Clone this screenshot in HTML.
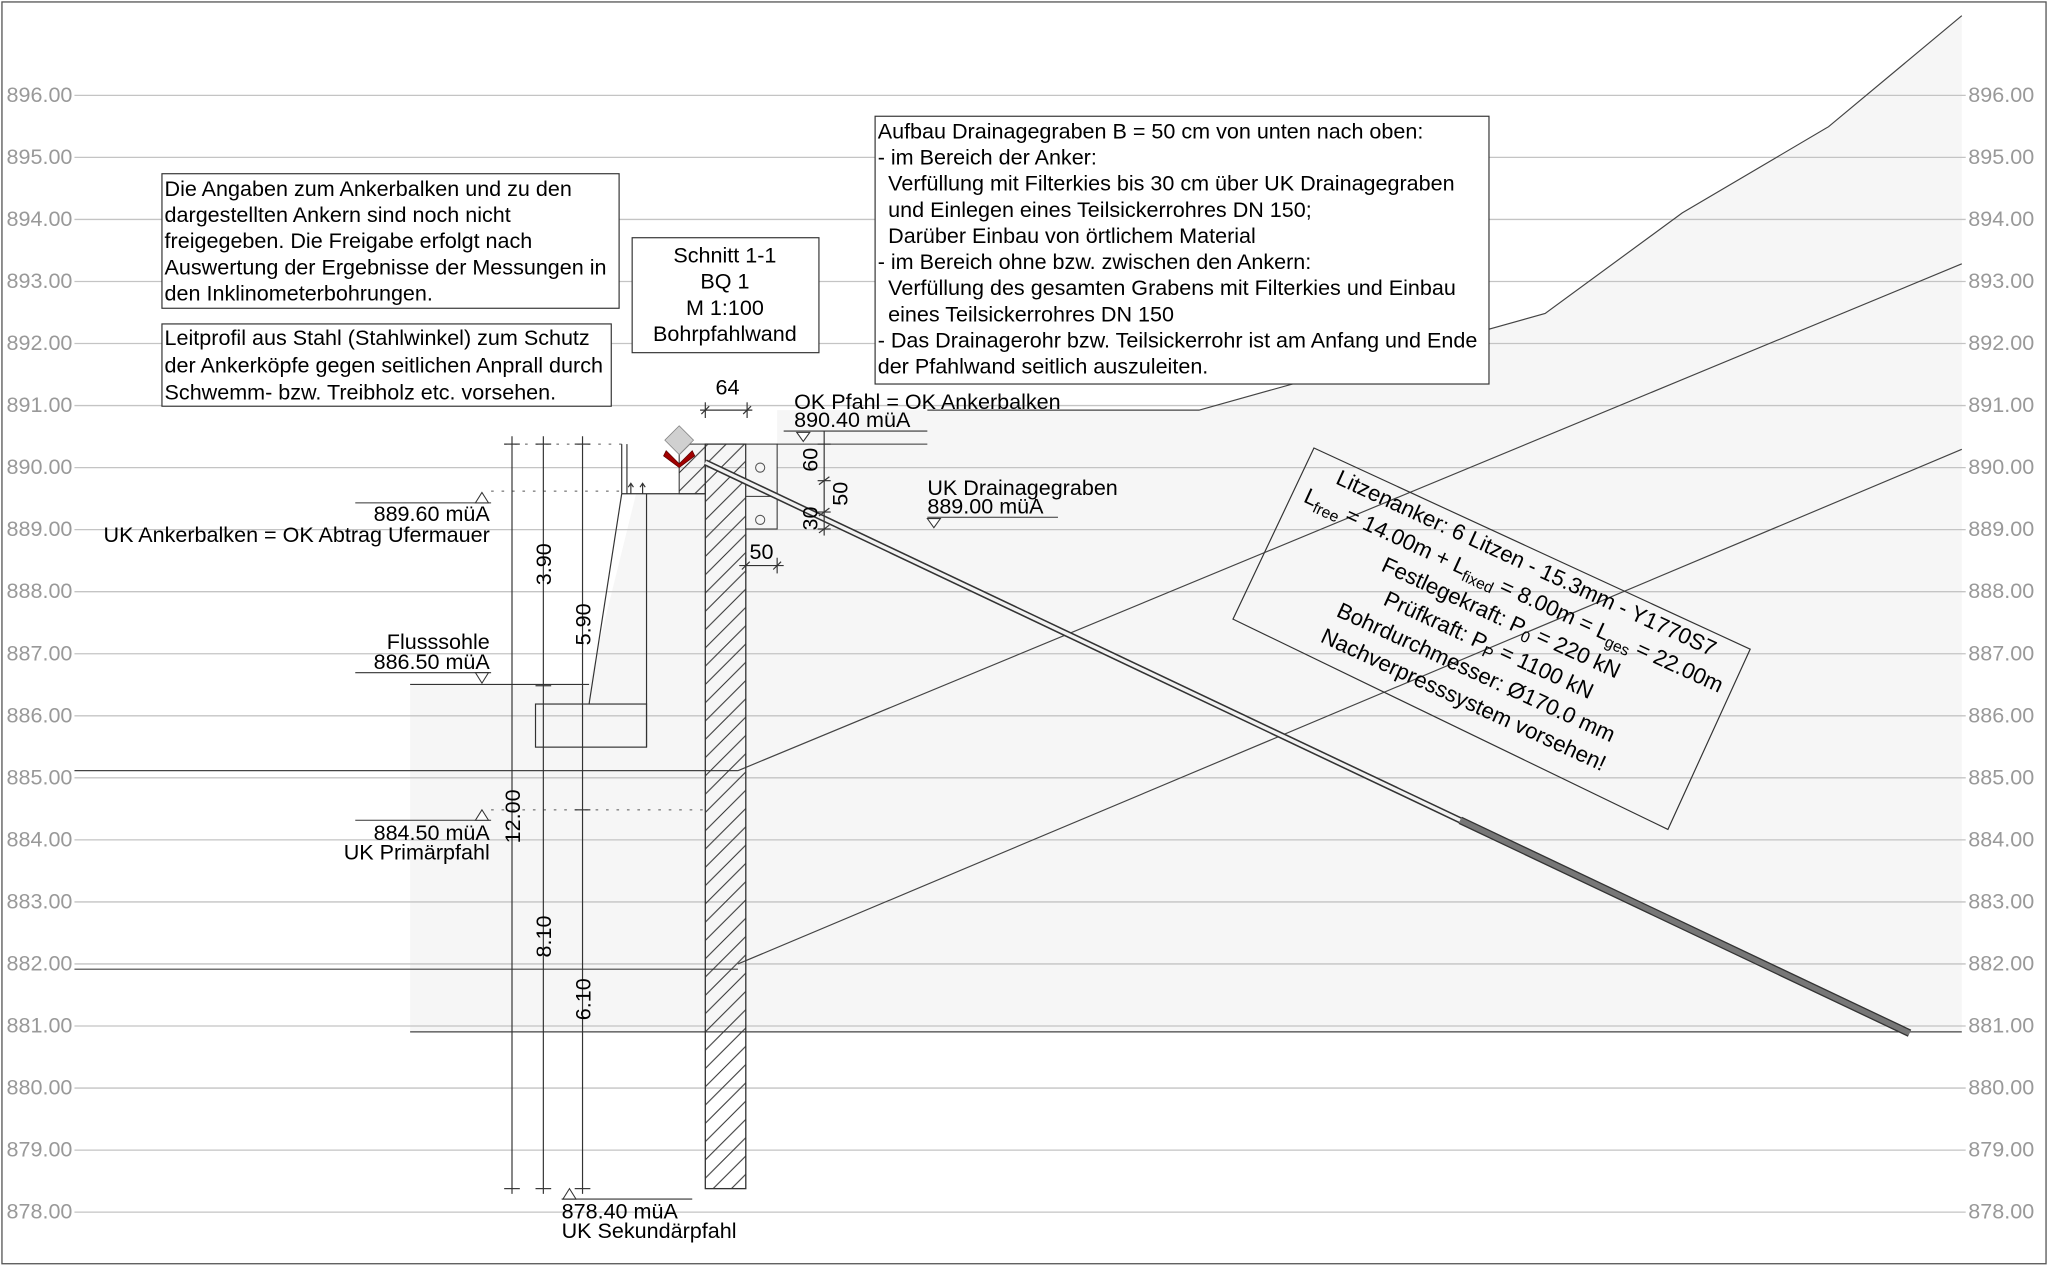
<!DOCTYPE html>
<html><head><meta charset="utf-8"><style>
html,body{margin:0;padding:0;background:#fff}
svg{display:block}
text{font-family:"Liberation Sans",sans-serif}
</style></head><body>
<svg width="2048" height="1267" viewBox="0 0 1568 970" preserveAspectRatio="none" xmlns="http://www.w3.org/2000/svg">
<defs>
<pattern id="h" width="14" height="14" patternUnits="userSpaceOnUse">
<path d="M0,14 L14,0 M-4,4 L4,-4 M10,18 L18,10" stroke="#333" stroke-width="0.8"/>
</pattern>
</defs>
<rect x="1.5" y="1.5" width="1565" height="966" fill="#fff" stroke="#555" stroke-width="1"/>
<polygon points="314,524 451,524 487,378 520,378 520,340 595,340 595,314 918,314 1183,240 1288,163 1400,97 1502,12 1502,790 314,790" fill="#f6f6f6"/>
<g stroke="#c4c4c4" stroke-width="1">
<line x1="57" y1="73" x2="1505" y2="73"/><line x1="57" y1="120.5" x2="1505" y2="120.5"/>
<line x1="57" y1="168" x2="1505" y2="168"/><line x1="57" y1="215.5" x2="1505" y2="215.5"/>
<line x1="57" y1="263" x2="1505" y2="263"/><line x1="57" y1="310.5" x2="1505" y2="310.5"/>
<line x1="57" y1="358" x2="1505" y2="358"/><line x1="57" y1="405.5" x2="1505" y2="405.5"/>
<line x1="57" y1="453" x2="1505" y2="453"/><line x1="57" y1="500.5" x2="1505" y2="500.5"/>
<line x1="57" y1="548" x2="1505" y2="548"/><line x1="57" y1="595.5" x2="1505" y2="595.5"/>
<line x1="57" y1="643" x2="1505" y2="643"/><line x1="57" y1="690.5" x2="1505" y2="690.5"/>
<line x1="57" y1="738" x2="1505" y2="738"/><line x1="57" y1="785.5" x2="1505" y2="785.5"/>
<line x1="57" y1="833" x2="1505" y2="833"/><line x1="57" y1="880.5" x2="1505" y2="880.5"/>
<line x1="57" y1="928" x2="1505" y2="928"/>
</g>
<g fill="#999" font-size="16.5">
<text x="5" y="78">896.00</text><text x="5" y="125.5">895.00</text><text x="5" y="173">894.00</text><text x="5" y="220.5">893.00</text><text x="5" y="268">892.00</text><text x="5" y="315.5">891.00</text><text x="5" y="363">890.00</text><text x="5" y="410.5">889.00</text><text x="5" y="458">888.00</text><text x="5" y="505.5">887.00</text><text x="5" y="553">886.00</text><text x="5" y="600.5">885.00</text><text x="5" y="648">884.00</text><text x="5" y="695.5">883.00</text><text x="5" y="743">882.00</text><text x="5" y="790.5">881.00</text><text x="5" y="838">880.00</text><text x="5" y="885.5">879.00</text><text x="5" y="933">878.00</text>
<text x="1507" y="78">896.00</text><text x="1507" y="125.5">895.00</text><text x="1507" y="173">894.00</text><text x="1507" y="220.5">893.00</text><text x="1507" y="268">892.00</text><text x="1507" y="315.5">891.00</text><text x="1507" y="363">890.00</text><text x="1507" y="410.5">889.00</text><text x="1507" y="458">888.00</text><text x="1507" y="505.5">887.00</text><text x="1507" y="553">886.00</text><text x="1507" y="600.5">885.00</text><text x="1507" y="648">884.00</text><text x="1507" y="695.5">883.00</text><text x="1507" y="743">882.00</text><text x="1507" y="790.5">881.00</text><text x="1507" y="838">880.00</text><text x="1507" y="885.5">879.00</text><text x="1507" y="933">878.00</text>
</g>
<g stroke="#444" stroke-width="0.9" fill="none">
<polyline points="1502,12 1400,97 1288,163 1183,240 918,314 710,314"/>
<line x1="565" y1="590" x2="1502" y2="202"/>
<line x1="565" y1="738" x2="1502" y2="344"/>
<line x1="57" y1="590" x2="565" y2="590"/>
<line x1="57" y1="742" x2="565" y2="742"/>
<line x1="314" y1="790" x2="1502" y2="790"/>
</g>
<g stroke="#333" stroke-width="0.9" fill="none">
<line x1="476" y1="340" x2="476" y2="378"/>
<line x1="480" y1="340" x2="480" y2="378"/>
<line x1="476" y1="378" x2="540" y2="378"/>
<line x1="476" y1="378" x2="451" y2="539"/>
<line x1="495" y1="378" x2="495" y2="572"/>
<rect x="410" y="539" width="85" height="33"/>
<line x1="314" y1="524" x2="451" y2="524"/>
<path d="M483,378 v-8 m-2,3 l2,-3 l2,3 M492,378 v-8 m-2,3 l2,-3 l2,3"/>
</g>
<g stroke="#555" stroke-width="0.8" stroke-dasharray="2,6" fill="none">
<line x1="386" y1="340" x2="476" y2="340"/>
<line x1="376" y1="376" x2="476" y2="376"/>
<line x1="376" y1="620" x2="540" y2="620"/>
</g>
<rect x="540" y="340" width="31" height="570" fill="url(#h)" stroke="#333" stroke-width="1"/>
<rect x="520" y="340" width="20" height="38" fill="url(#h)" stroke="#333" stroke-width="0.8"/>
<rect x="571" y="340" width="24" height="65" fill="#f6f6f6" stroke="#333" stroke-width="0.8"/>
<line x1="571" y1="380" x2="595" y2="380" stroke="#333" stroke-width="0.8"/>
<circle cx="582" cy="358" r="3.5" fill="none" stroke="#555" stroke-width="0.8"/>
<circle cx="582" cy="398" r="3.5" fill="none" stroke="#555" stroke-width="0.8"/>
<line x1="595" y1="340" x2="710" y2="340" stroke="#333" stroke-width="0.8"/>
<g>
<line x1="540" y1="354" x2="1118" y2="628" stroke="#333" stroke-width="5"/>
<line x1="540" y1="354" x2="1118" y2="628" stroke="#f2f2f2" stroke-width="2.6"/>
<line x1="1118" y1="628" x2="1462" y2="791" stroke="#333" stroke-width="6"/>
<line x1="1118" y1="628" x2="1462" y2="791" stroke="#777" stroke-width="4"/>
</g>
<polygon points="520,326 531,337 520,348 509,337" fill="#d0d0d0" stroke="#888" stroke-width="0.6"/>
<polygon points="510,345 520,355 530,345 532,349 520,358 508,349" fill="#a00000" stroke="#500" stroke-width="0.5"/>
<g stroke="#333" stroke-width="0.9" fill="none">
<line x1="392" y1="334" x2="392" y2="914"/>
<line x1="416" y1="334" x2="416" y2="914"/>
<line x1="446" y1="334" x2="446" y2="914"/>
<line x1="386" y1="340" x2="398" y2="340"/><line x1="410" y1="340" x2="422" y2="340"/><line x1="440" y1="340" x2="452" y2="340"/>
<line x1="386" y1="910" x2="398" y2="910"/><line x1="410" y1="910" x2="422" y2="910"/><line x1="440" y1="910" x2="452" y2="910"/>
<line x1="410" y1="525" x2="422" y2="525"/>
<line x1="440" y1="620" x2="452" y2="620"/>
<line x1="536" y1="314" x2="576" y2="314"/>
<line x1="540" y1="308" x2="540" y2="320"/><line x1="572" y1="308" x2="572" y2="320"/>
<line x1="537" y1="317" x2="543" y2="311"/><line x1="569" y1="317" x2="575" y2="311"/>
<line x1="631" y1="330" x2="631" y2="410"/>
<line x1="626" y1="340" x2="636" y2="340"/><line x1="626" y1="368" x2="636" y2="368"/><line x1="626" y1="392" x2="636" y2="392"/><line x1="626" y1="405" x2="636" y2="405"/>
<line x1="627" y1="371" x2="635" y2="365"/><line x1="627" y1="395" x2="635" y2="389"/><line x1="627" y1="408" x2="635" y2="402"/>
<line x1="566" y1="433" x2="600" y2="433"/>
<line x1="571" y1="427" x2="571" y2="439"/><line x1="595" y1="427" x2="595" y2="439"/>
<line x1="568" y1="436" x2="574" y2="430"/><line x1="592" y1="436" x2="598" y2="430"/>
</g>
<g font-size="16.5" fill="#000">
<text transform="translate(398,625) rotate(-90)" text-anchor="middle">12.00</text>
<text transform="translate(422,432) rotate(-90)" text-anchor="middle">3.90</text>
<text transform="translate(422,717) rotate(-90)" text-anchor="middle">8.10</text>
<text transform="translate(452,478) rotate(-90)" text-anchor="middle">5.90</text>
<text transform="translate(452,765) rotate(-90)" text-anchor="middle">6.10</text>
<text transform="translate(626,352) rotate(-90)" text-anchor="middle">60</text>
<text transform="translate(649,378) rotate(-90)" text-anchor="middle">50</text>
<text transform="translate(626,397) rotate(-90)" text-anchor="middle">30</text>
<text x="557" y="302" text-anchor="middle">64</text>
<text x="583" y="428" text-anchor="middle">50</text>
</g>
<g stroke="#333" stroke-width="0.8" fill="#fff">
<line x1="272" y1="385" x2="376" y2="385"/>
<polygon points="369,377 364,385 374,385"/>
<line x1="272" y1="515" x2="376" y2="515"/>
<polygon points="364,515 374,515 369,523"/>
<line x1="272" y1="628" x2="376" y2="628"/>
<polygon points="369,620 364,628 374,628"/>
<line x1="430" y1="918" x2="530" y2="918"/>
<polygon points="436,910 431,918 441,918"/>
<line x1="600" y1="330" x2="710" y2="330"/>
<polygon points="610,331 620,331 615,338"/>
<line x1="710" y1="396" x2="810" y2="396"/>
<polygon points="710,397 720,397 715,404"/>
</g>
<g font-size="16.5" fill="#000">
<text x="375" y="399" text-anchor="end">889.60 müA</text>
<text x="375" y="415" text-anchor="end">UK Ankerbalken = OK Abtrag Ufermauer</text>
<text x="375" y="497" text-anchor="end">Flusssohle</text>
<text x="375" y="512" text-anchor="end">886.50 müA</text>
<text x="375" y="643" text-anchor="end">884.50 müA</text>
<text x="375" y="658" text-anchor="end">UK Primärpfahl</text>
<text x="430" y="933">878.40 müA</text>
<text x="430" y="948">UK Sekundärpfahl</text>
<text x="608" y="313">OK Pfahl = OK Ankerbalken</text>
<text x="608" y="327">890.40 müA</text>
<text x="710" y="379">UK Drainagegraben</text>
<text x="710" y="393">889.00 müA</text>
</g>
<g stroke="#333" stroke-width="0.9" fill="#fff">
<rect x="124" y="133" width="350" height="103"/>
<rect x="124" y="248" width="344" height="63"/>
<rect x="484" y="182" width="143" height="88"/>
<rect x="670" y="89" width="470" height="205"/>
</g>
<g font-size="16.5" fill="#000">
<text x="126" y="150">Die Angaben zum Ankerbalken und zu den</text>
<text x="126" y="170">dargestellten Ankern sind noch nicht</text>
<text x="126" y="190">freigegeben. Die Freigabe erfolgt nach</text>
<text x="126" y="210">Auswertung der Ergebnisse der Messungen in</text>
<text x="126" y="230">den Inklinometerbohrungen.</text>
<text x="126" y="264">Leitprofil aus Stahl (Stahlwinkel) zum Schutz</text>
<text x="126" y="285">der Ankerköpfe gegen seitlichen Anprall durch</text>
<text x="126" y="306">Schwemm- bzw. Treibholz etc. vorsehen.</text>
<text x="555" y="201" text-anchor="middle">Schnitt 1-1</text>
<text x="555" y="221" text-anchor="middle">BQ 1</text>
<text x="555" y="241" text-anchor="middle">M 1:100</text>
<text x="555" y="261" text-anchor="middle">Bohrpfahlwand</text>
<text x="672" y="106">Aufbau Drainagegraben B = 50 cm von unten nach oben:</text>
<text x="672" y="126">- im Bereich der Anker:</text>
<text x="680" y="146">Verfüllung mit Filterkies bis 30 cm über UK Drainagegraben</text>
<text x="680" y="166">und Einlegen eines Teilsickerrohres DN 150;</text>
<text x="680" y="186">Darüber Einbau von örtlichem Material</text>
<text x="672" y="206">- im Bereich ohne bzw. zwischen den Ankern:</text>
<text x="680" y="226">Verfüllung des gesamten Grabens mit Filterkies und Einbau</text>
<text x="680" y="246">eines Teilsickerrohres DN 150</text>
<text x="672" y="266">- Das Drainagerohr bzw. Teilsickerrohr ist am Anfang und Ende</text>
<text x="672" y="286">der Pfahlwand seitlich auszuleiten.</text>
</g>
<polygon points="1006,343 1340,497 1277,635 944,474" fill="none" stroke="#333" stroke-width="0.9"/>
<g transform="translate(1142,489) rotate(24.7)" font-size="17" fill="#000" text-anchor="middle">
<text x="0" y="-58">Litzenanker: 6 Litzen - 15.3mm - Y1770S7</text>
<text x="0" y="-35">L<tspan font-size="12" dy="4">free</tspan><tspan dy="-4"> = 14.00m + L</tspan><tspan font-size="12" dy="4">fixed</tspan><tspan dy="-4"> = 8.00m = L</tspan><tspan font-size="12" dy="4">ges</tspan><tspan dy="-4"> = 22.00m</tspan></text>
<text x="0" y="-12">Festlegekraft: P<tspan font-size="12" dy="4">0</tspan><tspan dy="-4"> = 220 kN</tspan></text>
<text x="0" y="11">Prüfkraft: P<tspan font-size="12" dy="4">P</tspan><tspan dy="-4"> = 1100 kN</tspan></text>
<text x="0" y="34">Bohrdurchmesser: Ø170.0 mm</text>
<text x="0" y="57">Nachverpresssystem vorsehen!</text>
</g>
</svg>
</body></html>
